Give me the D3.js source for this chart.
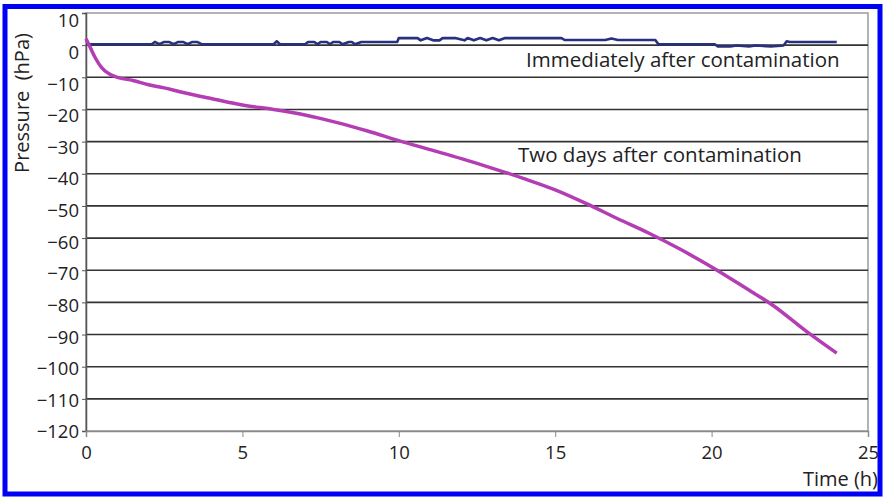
<!DOCTYPE html>
<html>
<head>
<meta charset="utf-8">
<script src="https://cdn.jsdelivr.net/npm/d3@7"></script>
<style>
  body { margin: 0; background: #fff; }
  svg text { font-family: "Open Sans", sans-serif; fill: #222; }
</style>
</head>
<body>
<div id="graph"></div>
<script>
// pressure (hPa) over time (h)
let twoDaysTime = [0, 0.15, 0.3, 0.5, 0.75, 1, 1.5, 2, 2.5, 3, 3.5, 4, 5, 6, 7, 8, 9, 10, 11, 12, 13, 14, 15, 16, 17, 18, 19, 20, 21, 22, 23, 24]
let twoDaysPressure = [2, -1, -4, -7, -9, -10, -11, -12.3, -13.3, -14.5, -15.6, -16.6, -18.6, -20, -21.7, -24, -26.7, -29.7, -32.5, -35.3, -38.3, -41.5, -45, -49.3, -54, -58.5, -63.5, -69, -75, -81.2, -88.8, -95.8]

let immediateTime = [0, 2.1, 2.2, 2.35, 2.5, 2.65, 2.8, 2.95, 3.1, 3.25, 3.4, 3.55, 3.7, 3.8,
    6.0, 6.1, 6.2,
    7.0, 7.1, 7.3, 7.4, 7.5, 7.7, 7.8, 7.9, 8.1, 8.2, 8.4, 8.5, 8.6, 8.8, 9.1,
    9.95, 10.0, 10.6, 10.7, 10.9, 11.1, 11.3, 11.4, 11.8, 12.1, 12.2, 12.4, 12.6, 12.8, 13.0, 13.2, 13.4, 13.6, 15.2, 15.3, 16.6, 16.8, 17.0, 17.1, 18.2, 18.3,
    20.1, 20.2, 20.6, 20.8, 21.2, 21.4, 21.9, 22.3, 22.4, 22.5, 24.0]
let immediatePressure = [0.3, 0.3, 1, 0.3, 1, 1, 0.3, 1, 1, 0.3, 1, 1, 0.3, 0.3,
    0.3, 1.2, 0.3,
    0.3, 1, 1, 0.3, 1, 1, 0.3, 1, 1, 0.3, 1, 1, 0.3, 1, 1,
    1, 2.2, 2.2, 1.5, 2.2, 1.5, 1.5, 2.2, 2.2, 1.5, 2.2, 1.5, 2.2, 1.5, 2.2, 1.5, 2.2, 2.2, 2.2, 1.6, 1.6, 2.1, 1.6, 1.6, 1.6, 0.3,
    0.3, -0.4, -0.4, -0.1, -0.4, -0.1, -0.4, -0.1, 1.2, 1.0, 1.0]

let yTicks = [10, 0, -10, -20, -30, -40, -50, -60, -70, -80, -90, -100, -110, -120]
let xTicks = [0, 5, 10, 15, 20, 25]

let margin = { top: 13, right: 15, bottom: 73, left: 86 },
    width = 883 - margin.left - margin.right,
    height = 504 - margin.top - margin.bottom;

let svg = d3.select("#graph")
    .append("svg")
    .attr("width", 883)
    .attr("height", 504)

// blue frame round the whole figure
svg.append("rect")
    .attr("x", 5).attr("y", 6.5)
    .attr("width", 875).attr("height", 487.5)
    .attr("fill", "none")
    .attr("stroke", "#0000f5")
    .attr("stroke-width", 5)

let g = svg.append("g")
    .attr("transform", `translate(${margin.left},${margin.top})`)

let x = d3.scaleLinear().domain([0, 25]).range([0, width])
let y = d3.scaleLinear().domain([-120, 10]).range([height, 0])
// the labels in the original sit a little lower than their ticks
let yLabel = d3.scaleLinear().domain([-120, 10]).range([height + 1, 8])

// plot box (top and right in light grey)
g.append("rect")
    .attr("width", width).attr("height", height)
    .attr("fill", "none")
    .attr("stroke", "#9a9a9a")
    .attr("stroke-width", 1.5)

// grid
g.append("g")
    .selectAll("line")
    .data(yTicks.filter(d => d < 10 && d > -120))
    .join("line")
    .attr("x1", 0).attr("x2", width)
    .attr("y1", d => y(d)).attr("y2", d => y(d))
    .attr("stroke", "#333")
    .attr("stroke-width", 1.6)

let fmt = d => d < 0 ? "\u2212" + Math.abs(d) : String(d)

let yAxis = g.append("g")
    .call(d3.axisLeft(y).tickValues(yTicks).tickFormat("").tickSize(4))
yAxis.select(".domain").attr("stroke", "#555").attr("stroke-width", 1.5)
yAxis.selectAll(".tick line").attr("stroke", "#555")

let yLabels = g.append("g")
    .call(d3.axisLeft(yLabel).tickValues(yTicks).tickFormat(fmt).tickSize(0).tickPadding(7))
yLabels.select(".domain").remove()
yLabels.selectAll("text").attr("font-size", 18.5).attr("fill", "#222").attr("font-family", "Open Sans")

let xAxis = g.append("g")
    .attr("transform", `translate(0,${height})`)
    .call(d3.axisBottom(x).tickValues(xTicks).tickSize(6).tickPadding(9))
xAxis.select(".domain").attr("stroke", "#8a8a8a").attr("stroke-width", 1.5)
xAxis.selectAll(".tick line").attr("stroke", "#8a8a8a")
xAxis.selectAll("text").attr("font-size", 18.5).attr("fill", "#222").attr("font-family", "Open Sans")

let line = d3.line()
    .x(d => x(d[0]))
    .y(d => y(d[1]))

g.append("path")
    .datum(immediateTime.map((t, i) => [t, immediatePressure[i]]))
    .attr("d", line)
    .attr("fill", "none")
    .attr("stroke", "#27317f")
    .attr("stroke-width", 2.6)
    .attr("stroke-linejoin", "round")

g.append("path")
    .datum(twoDaysTime.map((t, i) => [t, twoDaysPressure[i]]))
    .attr("d", line.curve(d3.curveMonotoneX))
    .attr("fill", "none")
    .attr("stroke", "#b43db4")
    .attr("stroke-width", 3.5)
    .attr("stroke-linejoin", "round")

// labels
svg.append("text")
    .attr("x", 526).attr("y", 67)
    .attr("font-size", 20.5)
    .text("Immediately after contamination")

svg.append("text")
    .attr("x", 518).attr("y", 162)
    .attr("font-size", 20.5)
    .text("Two days after contamination")

svg.append("text")
    .attr("x", 878).attr("y", 486)
    .attr("text-anchor", "end")
    .attr("font-size", 20)
    .text("Time (h)")

svg.append("text")
    .attr("transform", "translate(29,103) rotate(-90)")
    .attr("text-anchor", "middle")
    .attr("font-size", 20)
    .attr("xml:space", "preserve")
    .text("Pressure  (hPa)")
</script>
</body>
</html>
